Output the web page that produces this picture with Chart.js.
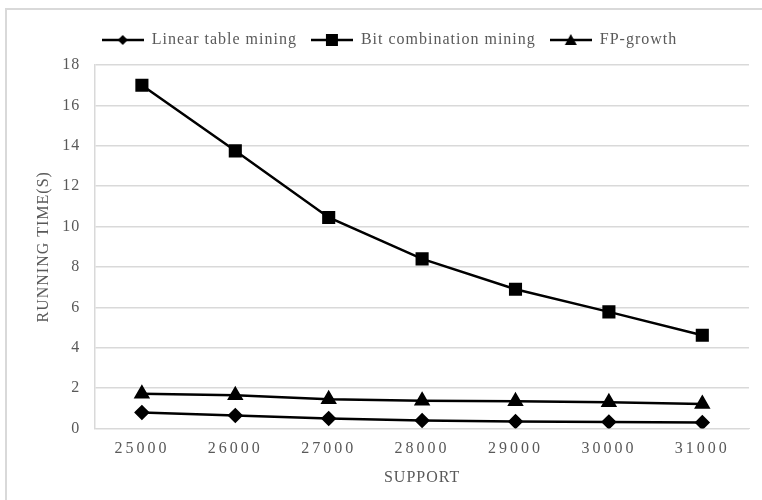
<!DOCTYPE html>
<html lang="en">
<head>
  <meta charset="UTF-8">
  <title>Running time vs support</title>
  <script src="https://cdn.jsdelivr.net/npm/chart.js"></script>
  <style>
    body {
      margin: 0;
      background-color: #fff;
    }
    #frame {
      position: absolute;
      left: 5px;
      top: 8px;
      width: 770px;
      height: 510px;
      border: 1px solid #d9d9d9;
      border-width: 2px 0 0 2px;
    }
    #wrap {
      position: absolute;
      left: 0;
      top: 0;
      width: 762px;
      height: 500px;
    }
  </style>
</head>
<body>

<div id="frame"></div>
<div id="wrap">
  <canvas id="runChart"></canvas>
</div>

<script>
  const supports = ['25000', '26000', '27000', '28000', '29000', '30000', '31000'];
  const linearTime = [0.8, 0.65, 0.5, 0.4, 0.35, 0.33, 0.3];
  const bitTime = [17.0, 13.75, 10.45, 8.4, 6.9, 5.78, 4.62];
  const fpTime = [1.72, 1.65, 1.45, 1.38, 1.35, 1.3, 1.22];
  const yTicks = [0, 2, 4, 6, 8, 10, 12, 14, 16, 18];

  const textColor = '#595959';
  const serif = '"Liberation Serif", "DejaVu Serif", serif';

  // legend swatch: short line with the marker in the middle
  function makeSwatch(shape) {
    const c = document.createElement('canvas');
    c.width = 42;
    c.height = 16;
    const g = c.getContext('2d');
    g.strokeStyle = '#000';
    g.fillStyle = '#000';
    g.lineWidth = 2.5;
    g.beginPath();
    g.moveTo(0, 8);
    g.lineTo(42, 8);
    g.stroke();
    g.beginPath();
    if (shape === 'diamond') {
      g.moveTo(21, 3); g.lineTo(26, 8); g.lineTo(21, 13); g.lineTo(16, 8);
    } else if (shape === 'square') {
      g.rect(15, 2, 12, 12);
    } else {
      g.moveTo(21, 2); g.lineTo(27, 13); g.lineTo(15, 13);
    }
    g.closePath();
    g.fill();
    return c;
  }
  const swatches = [makeSwatch('diamond'), makeSwatch('square'), makeSwatch('triangle')];

  // the original text is a bit spaced out, the x tick digits even more
  const spacing = {
    id: 'spacing',
    beforeLayout(chart) {
      chart.ctx.letterSpacing = '1px';
      const lg = chart.legend;
      if (lg && !lg._tall) {
        const fit = lg.fit.bind(lg);
        lg.fit = function () { fit(); this.height += 7; };
        lg._tall = true;
      }
    },
    beforeDraw(chart) { chart.ctx.letterSpacing = '1px'; },
    afterLayout(chart) {
      const s = chart.scales.x;
      if (s && !s._spaced) {
        const orig = s.drawLabels.bind(s);
        s.drawLabels = function (area) {
          const c = this.ctx;
          const old = c.letterSpacing;
          c.letterSpacing = '3px';
          orig(area);
          c.letterSpacing = old;
        };
        s._spaced = true;
      }
    }
  };

  const ctx = document.getElementById('runChart').getContext('2d');
  const runChart = new Chart(ctx, {
    type: 'line',
    data: {
      labels: supports,
      datasets: [
        {
          label: 'Linear table mining',
          data: linearTime,
          borderColor: '#000',
          backgroundColor: '#000',
          borderWidth: 2.5,
          pointStyle: 'rectRot',
          pointRadius: 6,
          tension: 0
        },
        {
          label: 'Bit combination mining',
          data: bitTime,
          borderColor: '#000',
          backgroundColor: '#000',
          borderWidth: 2.5,
          pointStyle: 'rect',
          pointRadius: 7.5,
          tension: 0
        },
        {
          label: 'FP-growth',
          data: fpTime,
          borderColor: '#000',
          backgroundColor: '#000',
          borderWidth: 2.5,
          pointStyle: 'triangle',
          pointRadius: 7,
          tension: 0
        }
      ]
    },
    plugins: [spacing],
    options: {
      responsive: true,
      maintainAspectRatio: false,
      animation: false,
      layout: {
        padding: { left: 30, right: 13, top: 18, bottom: 9 }
      },
      plugins: {
        tooltip: { enabled: false },
        legend: {
          position: 'top',
          align: 'center',
          labels: {
            color: textColor,
            font: { family: serif, size: 16 },
            usePointStyle: true,
            pointStyleWidth: 42,
            padding: 14,
            generateLabels: function (chart) {
              const items = Chart.defaults.plugins.legend.labels.generateLabels(chart);
              items.forEach((it, i) => { it.pointStyle = swatches[i]; });
              return items;
            }
          }
        }
      },
      scales: {
        x: {
          offset: true,
          grid: { display: false },
          border: { color: '#d9d9d9' },
          ticks: {
            color: textColor,
            font: { family: serif, size: 16 },
            padding: 3
          },
          title: {
            display: true,
            text: 'SUPPORT',
            color: textColor,
            font: { family: serif, size: 16 },
            padding: { top: 6 }
          }
        },
        y: {
          min: 0,
          max: 18,
          afterBuildTicks: function (axis) {
            axis.ticks = yTicks.map(v => ({ value: v }));
          },
          grid: { color: '#d9d9d9', lineWidth: 1.5, drawTicks: false },
          border: { color: '#d9d9d9', width: 1.5 },
          ticks: {
            color: textColor,
            font: { family: serif, size: 16 },
            padding: 15
          },
          title: {
            display: true,
            text: 'RUNNING TIME(S)',
            color: textColor,
            font: { family: serif, size: 16 },
            padding: { top: 4, bottom: -6 }
          }
        }
      }
    }
  });
</script>
</body>
</html>
